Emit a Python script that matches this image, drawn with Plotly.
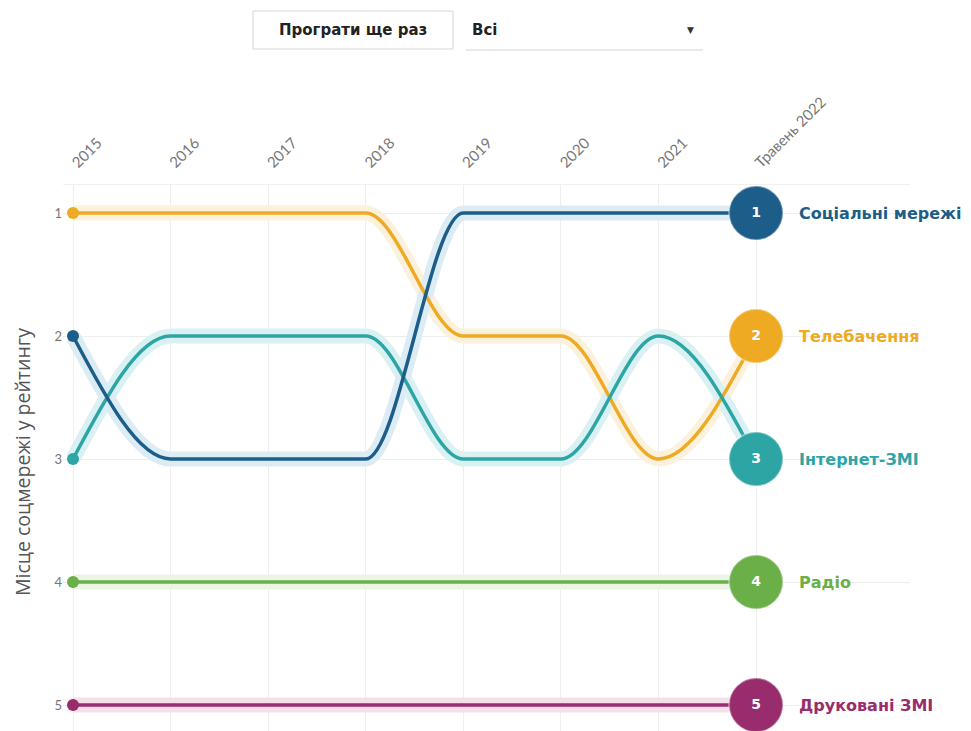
import plotly.graph_objects as go

# Rank of each media channel per year (1 = most trusted source)
years = [2015, 2016, 2017, 2018, 2019, 2020, 2021, 2022]
year_labels = ["2015", "2016", "2017", "2018", "2019", "2020", "2021", "Травень 2022"]
rank_ticks = [1, 2, 3, 4, 5]

social_media = [2, 3, 3, 3, 1, 1, 1, 1]
television = [1, 1, 1, 1, 2, 2, 3, 2]
online_media = [3, 2, 2, 2, 3, 3, 2, 3]
radio = [4, 4, 4, 4, 4, 4, 4, 4]
print_media = [5, 5, 5, 5, 5, 5, 5, 5]

series_names = ["Соціальні мережі", "Телебачення", "Інтернет-ЗМІ", "Радіо", "Друковані ЗМІ"]
series_values = [social_media, television, online_media, radio, print_media]
series_colors = ["#1c5d8a", "#eeaa22", "#2ea5a5", "#6aaf48", "#982c6c"]
halo_colors = ["#dcecf4", "#fcf1dc", "#d9f1f3", "#ebf4e5", "#f6dfe9"]

W, H = 971, 731
L, R, T, B = 63, 61, 185, 0
PW, PH = W - L - R, H - T - B


def px_x(px):
    return (px - L) / PW


def px_y(py):
    return (H - B - py) / PH


def monotone_tangents(xs, ys):
    # tangents of a monotone cubic in x (same rule as d3.curveMonotoneX)
    n = len(xs)
    sec = [(ys[i + 1] - ys[i]) / (xs[i + 1] - xs[i]) for i in range(n - 1)]
    t = [0.0] * n
    sgn = lambda v: -1 if v < 0 else 1
    for i in range(1, n - 1):
        h0, h1 = xs[i] - xs[i - 1], xs[i + 1] - xs[i]
        s0, s1 = sec[i - 1], sec[i]
        p = (s0 * h1 + s1 * h0) / (h0 + h1)
        t[i] = (sgn(s0) + sgn(s1)) * min(abs(s0), abs(s1), 0.5 * abs(p))
    t[0] = (3 * sec[0] - t[1]) / 2
    t[-1] = (3 * sec[-1] - t[-2]) / 2
    return t


def curve_path(xs, ys):
    t = monotone_tangents(xs, ys)
    parts = [f"M {xs[0]},{ys[0]}"]
    for i in range(len(xs) - 1):
        dx = (xs[i + 1] - xs[i]) / 3
        parts.append(
            f"C {xs[i] + dx},{ys[i] + dx * t[i]} "
            f"{xs[i + 1] - dx},{ys[i + 1] - dx * t[i + 1]} "
            f"{xs[i + 1]},{ys[i + 1]}"
        )
    return " ".join(parts)


fig = go.Figure()
shapes = []

# soft halos first, then the lines; social media drawn on top
order = [4, 3, 1, 2, 0]
for idx in order:
    shapes.append(dict(type="path", path=curve_path(years, series_values[idx]),
                       xref="x", yref="y", layer="between",
                       line=dict(color=halo_colors[idx], width=15)))
for idx in order:
    shapes.append(dict(type="path", path=curve_path(years, series_values[idx]),
                       xref="x", yref="y", layer="between",
                       line=dict(color=series_colors[idx], width=3.5)))

for name, vals, col in zip(series_names, series_values, series_colors):
    # starting dot
    fig.add_trace(go.Scatter(
        x=[years[0]], y=[vals[0]], mode="markers", showlegend=False, hoverinfo="skip",
        marker=dict(size=12, color=col)))
    # final rank bubble
    fig.add_trace(go.Scatter(
        x=[years[-1]], y=[vals[-1]], mode="markers+text", showlegend=False,
        name=name, text=[str(vals[-1])], textposition="middle center",
        textfont=dict(family="DejaVu Sans", size=14, color="white", weight="bold"),
        marker=dict(size=54, color=col, line=dict(color="rgba(255,255,255,0.35)", width=2))))

annotations = []
for name, vals, col in zip(series_names, series_values, series_colors):
    annotations.append(dict(
        x=years[-1], y=vals[-1], xref="x", yref="y", text=f"<b>{name}</b>",
        showarrow=False, xanchor="left", yanchor="middle", xshift=41,
        font=dict(family="DejaVu Sans", size=16, color=col)))

# y axis title
annotations.append(dict(
    x=px_x(22), y=px_y(462), xref="paper", yref="paper", text="Місце соцмережі у рейтингу",
    showarrow=False, textangle=-90, xanchor="center", yanchor="middle",
    font=dict(family="Open Sans", size=19.5, color="#555555")))

# replay button and filter dropdown above the chart
shapes.append(dict(type="rect", xref="paper", yref="paper",
                   x0=px_x(253), x1=px_x(453), y0=px_y(49), y1=px_y(11),
                   line=dict(color="#d6d6d6", width=1), fillcolor="white", layer="above"))
annotations.append(dict(
    x=px_x(353), y=px_y(30), xref="paper", yref="paper", text="<b>Програти ще раз</b>",
    showarrow=False, xanchor="center", yanchor="middle",
    font=dict(family="DejaVu Sans", size=15, color="#222222")))
annotations.append(dict(
    x=px_x(470), y=px_y(30), xref="paper", yref="paper", text="<b>Всі</b>",
    showarrow=False, xanchor="left", yanchor="middle",
    font=dict(family="DejaVu Sans", size=15, color="#222222")))
annotations.append(dict(
    x=px_x(690), y=px_y(30), xref="paper", yref="paper", text="▼",
    showarrow=False, xanchor="center", yanchor="middle",
    font=dict(family="DejaVu Sans", size=9, color="#333333")))
shapes.append(dict(type="line", xref="paper", yref="paper",
                   x0=px_x(466), x1=px_x(703), y0=px_y(50), y1=px_y(50),
                   line=dict(color="#e3e3e3", width=1.5), layer="above"))

x_per_year = (756 - 73) / 7
fig.update_layout(
    width=W, height=H,
    margin=dict(l=L, r=R, t=T, b=B),
    paper_bgcolor="white", plot_bgcolor="white",
    showlegend=False,
    shapes=shapes, annotations=annotations,
    xaxis=dict(
        range=[2015 - (73 - L) / x_per_year, 2015 + (W - R - 73) / x_per_year],
        side="top", tickmode="array", tickvals=years, ticktext=year_labels,
        tickangle=-45, showgrid=True, gridcolor="#eeeeee", gridwidth=1,
        zeroline=False, showline=True, linecolor="#f0f0f0", ticks="",
        ticklabelstandoff=7,
        tickfont=dict(family="Lato", size=15, color="#777777"), fixedrange=True),
    yaxis=dict(
        range=[5 + (H - B - 705) / 123, 1 - (213 - T) / 123],
        tickmode="array", tickvals=rank_ticks, ticktext=[str(r) for r in rank_ticks],
        showgrid=True, gridcolor="#eeeeee", gridwidth=1, zeroline=False, ticks="",
        tickfont=dict(family="Lato", size=13, color="#777777"), fixedrange=True),
)

fig.write_html("out.html")
